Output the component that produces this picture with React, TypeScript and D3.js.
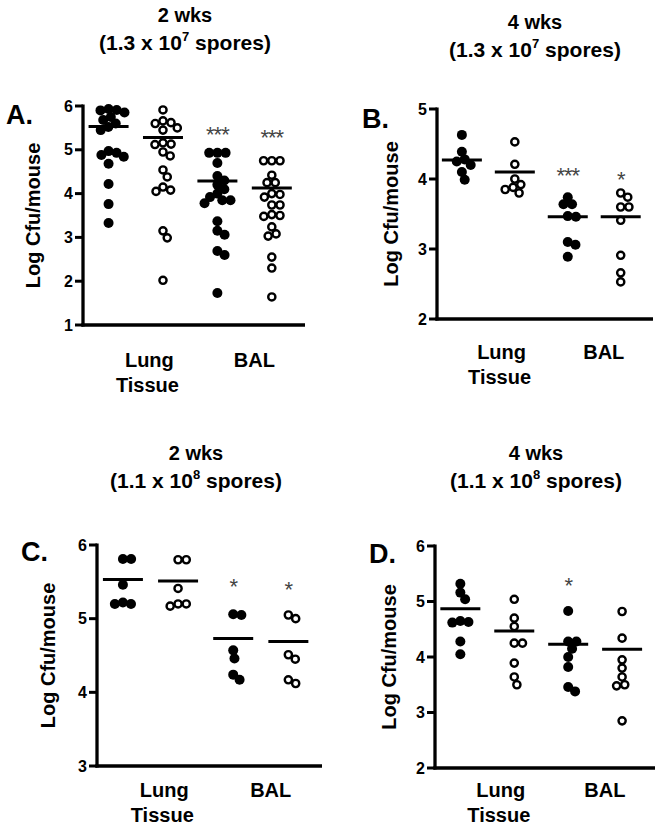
import React from "react";
import * as d3 from "d3";

// ---------- data ----------
const panelLetters = ["A.", "B.", "C.", "D."];
const titleWeeks = ["2 wks", "4 wks", "2 wks", "4 wks"];
const titleDoseBase = ["1.3", "1.3", "1.1", "1.1"];
const titleDoseExp = ["7", "7", "8", "8"];
const groupLabels = ["Lung", "BAL"];
const groupSubLabels = ["Tissue", ""];
const yAxisLabel = "Log Cfu/mouse";

const ticksA = [1, 2, 3, 4, 5, 6];
const ticksB = [2, 3, 4, 5];
const ticksC = [3, 4, 5, 6];
const ticksD = [2, 3, 4, 5, 6];

// column order: Lung filled, Lung open, BAL filled, BAL open
const aLungFilled = [5.93, 5.91, 5.9, 5.85, 5.75, 5.68, 5.6, 5.52, 5.45, 4.97, 4.93, 4.88, 4.84, 4.68, 4.22, 3.76, 3.33];
const aLungOpen = [5.91, 5.66, 5.62, 5.6, 5.5, 5.45, 5.16, 5.13, 5.12, 4.95, 4.86, 4.54, 4.38, 4.15, 4.08, 4.05, 3.15, 2.99, 2.02];
const aBalFilled = [4.93, 4.93, 4.93, 4.7, 4.4, 4.3, 4.2, 4.1, 4.0, 3.92, 3.85, 3.85, 3.78, 3.37, 3.15, 3.06, 2.69, 2.6, 1.73];
const aBalOpen = [4.75, 4.75, 4.75, 4.42, 4.25, 4.25, 4.0, 3.92, 3.98, 3.74, 3.74, 3.52, 3.48, 3.5, 3.24, 3.08, 3.03, 2.55, 2.3, 1.64];
const aCenters = [5.53, 5.28, 4.29, 4.13];
const aStars = ["", "", "***", "***"];
const aStarLevels = [0, 0, 5.41, 5.34];

const bLungFilled = [4.63, 4.39, 4.28, 4.25, 4.2, 4.1, 3.99];
const bLungOpen = [4.53, 4.21, 4.0, 3.92, 3.88, 3.85, 3.8];
const bBalFilled = [3.74, 3.64, 3.64, 3.47, 3.46, 3.1, 3.06, 2.89];
const bBalOpen = [3.8, 3.74, 3.6, 3.6, 3.41, 2.91, 2.66, 2.53];
const bCenters = [4.27, 4.1, 3.46, 3.46];
const bStars = ["", "", "***", "*"];
const bStarLevels = [0, 0, 4.09, 4.03];

const cLungFilled = [5.81, 5.81, 5.46, 5.22, 5.2, 5.2];
const cLungOpen = [5.8, 5.8, 5.41, 5.2, 5.17, 5.2];
const cBalFilled = [5.05, 5.06, 4.57, 4.46, 4.17, 4.24];
const cBalOpen = [5.0, 5.05, 4.51, 4.45, 4.12, 4.17];
const cCenters = [5.53, 5.51, 4.73, 4.69];
const cStars = ["", "", "*", "*"];
const cStarLevels = [0, 0, 5.47, 5.43];

const dLungFilled = [5.32, 5.16, 5.04, 4.65, 4.63, 4.62, 4.28, 4.05];
const dLungOpen = [5.04, 4.7, 4.55, 4.25, 4.25, 3.89, 3.64, 3.5];
const dBalFilled = [4.83, 4.28, 4.28, 4.15, 4.0, 3.82, 3.46, 3.38];
const dBalOpen = [4.82, 4.34, 3.95, 3.8, 3.64, 3.5, 3.48, 2.85];
const dCenters = [4.87, 4.47, 4.23, 4.14];
const dStars = ["", "", "*", ""];
const dStarLevels = [0, 0, 5.33, 0];

const columnFilled = [true, false, true, false];

// ---------- layout ----------
const FONT = "'Liberation Sans', Arial, Helvetica, sans-serif";

type PanelCfg = {
  letter: string;
  weeks: string;
  doseBase: string;
  doseExp: string;
  x0: number; x1: number; yTop: number; yBot: number;
  domain: [number, number];
  ticks: number[];
  columns: number[][];
  centers: number[];
  stars: string[];
  starLevels: number[];
  titleX: number; titleY: number;
  letterX: number; letterY: number;
  yLabelX: number;
  groupY: number;
};

function swarm(values: number[], yPos: (v: number) => number, d: number) {
  const pts = values.map((v, i) => ({ v, y: yPos(v), x: 0, i }));
  const order = [...pts].sort((a, b) => b.v - a.v);
  const placed: { x: number; y: number }[] = [];
  for (const p of order) {
    const cands = [0];
    for (const q of placed) {
      const dy = p.y - q.y;
      if (Math.abs(dy) < d) {
        const dx = Math.sqrt(d * d - dy * dy);
        cands.push(q.x + dx, q.x - dx);
      }
    }
    cands.sort((a, b) => Math.abs(a) - Math.abs(b) || b - a);
    for (const c of cands) {
      if (placed.every((q) => (q.x - c) ** 2 + (q.y - p.y) ** 2 >= d * d - 0.05)) {
        p.x = c;
        break;
      }
    }
    placed.push(p);
  }
  return pts;
}

function Panel({ cfg }: { cfg: PanelCfg }) {
  const y = d3.scaleLinear().domain(cfg.domain).range([cfg.yBot, cfg.yTop]);
  const x = d3.scaleLinear().domain([-0.47, 3.61]).range([cfg.x0, cfg.x1]);
  const groupPos = [0.75, 2.68];
  const midY = (cfg.yTop + cfg.yBot) / 2;
  return (
    <g fontFamily={FONT}>
      {/* title */}
      <text x={cfg.titleX} y={cfg.titleY} textAnchor="middle" fontSize={20} fontWeight="bold">
        {cfg.weeks}
      </text>
      <text x={cfg.titleX} y={cfg.titleY + 28} textAnchor="middle" fontSize={21} fontWeight="bold">
        {"(" + cfg.doseBase + " x 10"}
        <tspan fontSize={13} dy={-9}>{cfg.doseExp}</tspan>
        <tspan dy={9}>{" spores)"}</tspan>
      </text>
      {/* panel letter */}
      <text x={cfg.letterX} y={cfg.letterY} fontSize={27} fontWeight="bold">
        {cfg.letter}
      </text>
      {/* y label */}
      <text
        transform={`translate(${cfg.yLabelX},${midY}) rotate(-90)`}
        textAnchor="middle"
        dominantBaseline="central"
        fontSize={20}
        fontWeight="bold"
      >
        {yAxisLabel}
      </text>
      {/* axes */}
      <line x1={cfg.x0} x2={cfg.x0} y1={cfg.yTop - 1.5} y2={cfg.yBot + 1.5} stroke="#000" strokeWidth={3.3} />
      <line x1={cfg.x0 - 1.6} x2={cfg.x1} y1={cfg.yBot} y2={cfg.yBot} stroke="#000" strokeWidth={3.3} />
      {cfg.ticks.map((t) => (
        <g key={t}>
          <line x1={cfg.x0 - 8} x2={cfg.x0} y1={y(t)} y2={y(t)} stroke="#000" strokeWidth={3} />
          <text x={cfg.x0 - 10} y={y(t)} textAnchor="end" dominantBaseline="central" fontSize={16} fontWeight="bold">
            {t}
          </text>
        </g>
      ))}
      {/* group labels */}
      {groupLabels.map((g, i) => (
        <g key={g}>
          <text x={x(groupPos[i])} y={cfg.groupY} textAnchor="middle" fontSize={20} fontWeight="bold">
            {g}
          </text>
          {groupSubLabels[i] && (
            <text x={x(groupPos[i]) - 2} y={cfg.groupY + 25} textAnchor="middle" fontSize={20} fontWeight="bold">
              {groupSubLabels[i]}
            </text>
          )}
        </g>
      ))}
      {/* points */}
      {cfg.columns.map((vals, ci) => {
        const pts = swarm(vals, (v) => y(v), 8.2);
        const cx = x(ci);
        return (
          <g key={ci}>
            {pts.map((p) =>
              columnFilled[ci] ? (
                <circle key={p.i} cx={cx + p.x} cy={p.y} r={5} fill="#000" />
              ) : (
                <circle key={p.i} cx={cx + p.x} cy={p.y} r={3.6} fill="#fff" stroke="#000" strokeWidth={2.4} />
              )
            )}
            <line x1={cx - 20} x2={cx + 20} y1={y(cfg.centers[ci])} y2={y(cfg.centers[ci])} stroke="#000" strokeWidth={3} />
            {cfg.stars[ci] && (
              <text x={cx} y={y(cfg.starLevels[ci]) + 10} textAnchor="middle" fontSize={22} fill="#444" letterSpacing={-1}>
                {cfg.stars[ci]}
              </text>
            )}
          </g>
        );
      })}
    </g>
  );
}

export default function App() {
  const panels: PanelCfg[] = [
    {
      letter: panelLetters[0], weeks: titleWeeks[0], doseBase: titleDoseBase[0], doseExp: titleDoseExp[0],
      x0: 83, x1: 305, yTop: 106, yBot: 325, domain: [1, 6], ticks: ticksA,
      columns: [aLungFilled, aLungOpen, aBalFilled, aBalOpen], centers: aCenters,
      stars: aStars, starLevels: aStarLevels,
      titleX: 185, titleY: 22, letterX: 6, letterY: 124, yLabelX: 33, groupY: 367,
    },
    {
      letter: panelLetters[1], weeks: titleWeeks[1], doseBase: titleDoseBase[1], doseExp: titleDoseExp[1],
      x0: 437, x1: 653, yTop: 109, yBot: 319, domain: [2, 5], ticks: ticksB,
      columns: [bLungFilled, bLungOpen, bBalFilled, bBalOpen], centers: bCenters,
      stars: bStars, starLevels: bStarLevels,
      titleX: 535, titleY: 29, letterX: 362, letterY: 128, yLabelX: 391, groupY: 359,
    },
    {
      letter: panelLetters[2], weeks: titleWeeks[2], doseBase: titleDoseBase[2], doseExp: titleDoseExp[2],
      x0: 97, x1: 322, yTop: 545, yBot: 766, domain: [3, 6], ticks: ticksC,
      columns: [cLungFilled, cLungOpen, cBalFilled, cBalOpen], centers: cCenters,
      stars: cStars, starLevels: cStarLevels,
      titleX: 196, titleY: 460, letterX: 21, letterY: 561, yLabelX: 48, groupY: 797,
    },
    {
      letter: panelLetters[3], weeks: titleWeeks[3], doseBase: titleDoseBase[3], doseExp: titleDoseExp[3],
      x0: 435, x1: 655, yTop: 546, yBot: 768, domain: [2, 6], ticks: ticksD,
      columns: [dLungFilled, dLungOpen, dBalFilled, dBalOpen], centers: dCenters,
      stars: dStars, starLevels: dStarLevels,
      titleX: 536, titleY: 460, letterX: 369, letterY: 563, yLabelX: 389, groupY: 797,
    },
  ];
  return (
    <svg width={664} height={829} style={{ position: "absolute", left: 0, top: 0, background: "#fff" }}>
      <rect width={664} height={829} fill="#fff" />
      {panels.map((p, i) => (
        <Panel key={i} cfg={p} />
      ))}
    </svg>
  );
}
